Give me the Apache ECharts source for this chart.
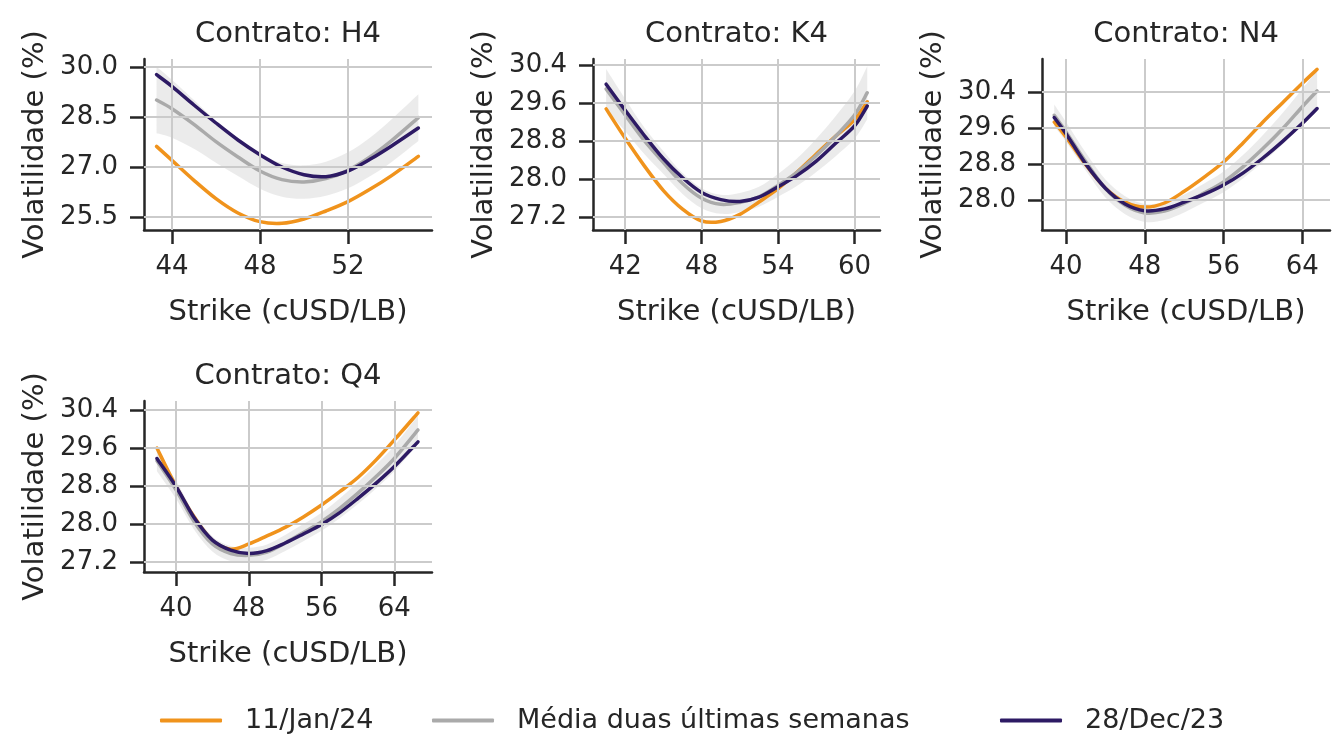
<!DOCTYPE html>
<html><head><meta charset="utf-8">
<script src="https://cdn.jsdelivr.net/npm/echarts@6/dist/echarts.min.js"></script>
<style>html,body{margin:0;padding:0;background:#fff}#c{width:1335px;height:742px}</style>
</head><body><div id="c"></div>
<script>
const seriesNames = ['11/Jan/24', 'Média duas últimas semanas', '28/Dec/23'];
const contractTitles = ['Contrato: H4', 'Contrato: K4', 'Contrato: N4', 'Contrato: Q4'];
const xName = 'Strike (cUSD/LB)';
const yName = 'Volatilidade (%)';

// H4
const h4Strike = [43.3, 44, 45, 46, 47, 48, 49, 50, 51, 52, 53, 54, 55.2];
const h4Jan11 = [27.62, 27.20, 26.60, 26.05, 25.62, 25.36, 25.31, 25.44, 25.68, 25.96, 26.33, 26.75, 27.32];
const h4Mean = [29.01, 28.75, 28.28, 27.76, 27.30, 26.88, 26.62, 26.55, 26.65, 26.90, 27.30, 27.80, 28.48];
const h4MeanLow = [28.01, 27.88, 27.55, 27.13, 26.73, 26.35, 26.11, 26.05, 26.14, 26.36, 26.72, 27.16, 27.78];
const h4MeanHigh = [30.01, 29.62, 29.01, 28.39, 27.87, 27.40, 27.12, 27.05, 27.16, 27.44, 27.88, 28.44, 29.18];
const h4Dec28 = [29.77, 29.42, 28.86, 28.32, 27.81, 27.37, 27.00, 26.77, 26.71, 26.88, 27.23, 27.64, 28.17];
const h4XTicks = [44, 48, 52];
const h4YTicks = [25.5, 27.0, 28.5, 30.0];

// K4
const k4Strike = [40.5, 42, 43.5, 45, 46.5, 48, 49.5, 51, 52.5, 54, 55.5, 57, 58.5, 60, 61];
const k4Jan11 = [29.48, 28.86, 28.28, 27.76, 27.37, 27.12, 27.11, 27.26, 27.52, 27.80, 28.15, 28.53, 28.90, 29.25, 29.63];
const k4Mean = [29.90, 29.35, 28.81, 28.35, 27.91, 27.60, 27.47, 27.51, 27.63, 27.87, 28.15, 28.50, 28.90, 29.35, 29.82];
const k4MeanLow = [29.48, 29.01, 28.53, 28.11, 27.69, 27.39, 27.27, 27.31, 27.42, 27.63, 27.86, 28.15, 28.48, 28.85, 29.26];
const k4MeanHigh = [30.32, 29.69, 29.09, 28.59, 28.13, 27.81, 27.67, 27.71, 27.84, 28.11, 28.44, 28.85, 29.32, 29.85, 30.38];
const k4Dec28 = [30.00, 29.45, 28.92, 28.43, 28.03, 27.72, 27.57, 27.53, 27.62, 27.84, 28.08, 28.38, 28.75, 29.12, 29.54];
const k4XTicks = [42, 48, 54, 60];
const k4YTicks = [27.2, 28.0, 28.8, 29.6, 30.4];

// N4
const n4Strike = [38.8, 40, 42, 44, 46, 48, 50, 52, 54, 56, 58, 60, 62, 64, 65.5];
const n4Jan11 = [29.73, 29.40, 28.78, 28.26, 27.95, 27.84, 27.93, 28.19, 28.50, 28.84, 29.27, 29.73, 30.16, 30.59, 30.90];
const n4Mean = [29.88, 29.51, 28.85, 28.25, 27.88, 27.71, 27.75, 27.92, 28.15, 28.40, 28.74, 29.14, 29.58, 30.07, 30.42];
const n4MeanLow = [29.64, 29.29, 28.65, 28.05, 27.68, 27.51, 27.55, 27.72, 27.94, 28.17, 28.48, 28.84, 29.23, 29.67, 29.97];
const n4MeanHigh = [30.12, 29.73, 29.05, 28.45, 28.08, 27.91, 27.95, 28.12, 28.36, 28.63, 29.00, 29.44, 29.93, 30.47, 30.87];
const n4Dec28 = [29.83, 29.47, 28.80, 28.26, 27.91, 27.76, 27.80, 27.95, 28.12, 28.33, 28.60, 28.93, 29.30, 29.70, 30.03];
const n4XTicks = [40, 48, 56, 64];
const n4YTicks = [28.0, 28.8, 29.6, 30.4];

// Q4
const q4Strike = [37.9, 40, 42, 44, 46, 48, 50, 52, 54, 56, 58, 60, 62, 64, 66.6];
const q4Jan11 = [29.60, 28.79, 28.15, 27.65, 27.47, 27.58, 27.75, 27.93, 28.15, 28.40, 28.68, 28.98, 29.35, 29.77, 30.34];
const q4Mean = [29.33, 28.72, 28.05, 27.58, 27.38, 27.34, 27.41, 27.60, 27.82, 28.05, 28.33, 28.65, 29.00, 29.38, 29.98];
const q4MeanLow = [29.11, 28.53, 27.88, 27.42, 27.22, 27.18, 27.25, 27.43, 27.64, 27.86, 28.12, 28.42, 28.75, 29.11, 29.68];
const q4MeanHigh = [29.55, 28.91, 28.22, 27.74, 27.54, 27.50, 27.57, 27.77, 28.00, 28.24, 28.54, 28.88, 29.25, 29.65, 30.28];
const q4Dec28 = [29.38, 28.79, 28.13, 27.66, 27.45, 27.38, 27.44, 27.60, 27.79, 27.99, 28.24, 28.54, 28.86, 29.21, 29.73];
const q4XTicks = [40, 48, 56, 64];
const q4YTicks = [27.2, 28.0, 28.8, 29.6, 30.4];

const FONT = '"DejaVu Sans", sans-serif';
const TXT = '#262626';
const COLORS = ['#f0931c', '#aaaaaa', '#2d1a64'];

const panels = [
  {strike: h4Strike, jan: h4Jan11, mean: h4Mean, lo: h4MeanLow, hi: h4MeanHigh, dec: h4Dec28, xt: h4XTicks, yt: h4YTicks,
   grid: {left: 144, top: 59, width: 288, height: 171}, xr: [42.73, 55.82], yr: [25.11, 30.24]},
  {strike: k4Strike, jan: k4Jan11, mean: k4Mean, lo: k4MeanLow, hi: k4MeanHigh, dec: k4Dec28, xt: k4XTicks, yt: k4YTicks,
   grid: {left: 593, top: 59, width: 287, height: 171}, xr: [39.47, 62.0], yr: [26.93, 30.53]},
  {strike: n4Strike, jan: n4Jan11, mean: n4Mean, lo: n4MeanLow, hi: n4MeanHigh, dec: n4Dec28, xt: n4XTicks, yt: n4YTicks,
   grid: {left: 1042, top: 59, width: 288, height: 171}, xr: [37.56, 66.81], yr: [27.33, 31.13]},
  {strike: q4Strike, jan: q4Jan11, mean: q4Mean, lo: q4MeanLow, hi: q4MeanHigh, dec: q4Dec28, xt: q4XTicks, yt: q4YTicks,
   grid: {left: 144, top: 401, width: 288, height: 171}, xr: [36.48, 68.14], yr: [26.99, 30.59]}
];

// Catmull-Rom spline through pixel points -> bezier path segments
function splineSegs(pts) {
  let d = '';
  for (let k = 0; k < pts.length - 1; k++) {
    const p0 = pts[k - 1] || pts[k], p1 = pts[k], p2 = pts[k + 1], p3 = pts[k + 2] || pts[k + 1];
    const c1x = p1[0] + (p2[0] - p0[0]) / 6, c1y = p1[1] + (p2[1] - p0[1]) / 6;
    const c2x = p2[0] - (p3[0] - p1[0]) / 6, c2y = p2[1] - (p3[1] - p1[1]) / 6;
    d += ' C' + c1x + ' ' + c1y + ' ' + c2x + ' ' + c2y + ' ' + p2[0] + ' ' + p2[1];
  }
  return d;
}

const grids = [], xAxes = [], yAxes = [], series = [], titles = [];
panels.forEach((p, i) => {
  grids.push(Object.assign({containLabel: false}, p.grid));
  titles.push({
    text: contractTitles[i], left: p.grid.left + p.grid.width / 2, top: p.grid.top - 39,
    textAlign: 'center', padding: 0,
    textStyle: {fontFamily: FONT, fontSize: 29, fontWeight: 'normal', color: TXT}
  });
  xAxes.push({
    gridIndex: i, type: 'value', min: p.xr[0], max: p.xr[1],
    axisLine: {show: true, onZero: false, lineStyle: {color: TXT, width: 2.5}},
    axisTick: {show: true, length: 14, customValues: p.xt, lineStyle: {color: TXT, width: 2.5}},
    axisLabel: {customValues: p.xt, margin: 24, fontFamily: FONT, fontSize: 26, color: TXT,
      formatter: v => String(Math.round(v))},
    splitLine: {show: false},
    name: xName, nameLocation: 'middle', nameGap: 68,
    nameTextStyle: {fontFamily: FONT, fontSize: 29, color: TXT}
  });
  yAxes.push({
    gridIndex: i, type: 'value', min: p.yr[0], max: p.yr[1],
    axisLine: {show: true, onZero: false, lineStyle: {color: TXT, width: 2.5}},
    axisTick: {show: true, length: 14, customValues: p.yt, lineStyle: {color: TXT, width: 2.5}},
    axisLabel: {customValues: p.yt, margin: 26, fontFamily: FONT, fontSize: 26, color: TXT,
      formatter: v => v.toFixed(1)},
    splitLine: {show: false},
    name: yName, nameLocation: 'middle', nameGap: 94,
    nameTextStyle: {fontFamily: FONT, fontSize: 29, color: TXT}
  });
  // gridlines carrier (invisible line) with markLine gridlines at tick values
  series.push({
    name: 'grid-' + i, type: 'line', xAxisIndex: i, yAxisIndex: i,
    data: p.strike.map((s, k) => [s, p.mean[k]]),
    symbol: 'none', lineStyle: {opacity: 0}, z: 1, silent: true,
    markLine: {
      silent: true, symbol: ['none', 'none'], label: {show: false}, animation: false,
      lineStyle: {color: '#cbcbcb', width: 2, type: 'solid'},
      emphasis: {disabled: true},
      data: [...p.xt.map(v => ({xAxis: v})), ...p.yt.map(v => ({yAxis: v}))]
    }
  });
  // confidence band as a smooth closed path through the axis scales
  series.push({
    name: 'band-' + i, type: 'custom', xAxisIndex: i, yAxisIndex: i, silent: true, z: 2,
    data: p.strike.map((s, k) => [s, p.lo[k], p.hi[k]]),
    encode: {x: 0, y: [1, 2]},
    renderItem: (params, api) => {
      if (params.dataIndexInside !== 0) return null;
      const n = params.dataInsideLength;
      const top = [], bot = [];
      for (let k = 0; k < n; k++) {
        top.push(api.coord([api.value(0, k), api.value(2, k)]));
        bot.push(api.coord([api.value(0, k), api.value(1, k)]));
      }
      bot.reverse();
      const d = 'M' + top[0][0] + ' ' + top[0][1] + splineSegs(top) +
        ' L' + bot[0][0] + ' ' + bot[0][1] + splineSegs(bot) + ' Z';
      return {type: 'path', shape: {pathData: d}, style: {fill: 'rgba(150,150,150,0.19)'}};
    }
  });
  // the three curves, smooth splines through the read points via the axis scales
  [[seriesNames[0], p.jan, COLORS[0]], [seriesNames[1], p.mean, COLORS[1]], [seriesNames[2], p.dec, COLORS[2]]]
    .forEach(([nm, arr, col]) => {
      series.push({
        name: nm, type: 'custom', xAxisIndex: i, yAxisIndex: i, z: 3, silent: true,
        itemStyle: {color: col},
        data: p.strike.map((s, k) => [s, arr[k]]),
        encode: {x: 0, y: 1},
        renderItem: (params, api) => {
          if (params.dataIndexInside !== 0) return null;
          const n = params.dataInsideLength;
          const pts = [];
          for (let k = 0; k < n; k++) pts.push(api.coord([api.value(0, k), api.value(1, k)]));
          const d = 'M' + pts[0][0] + ' ' + pts[0][1] + splineSegs(pts);
          return {type: 'path', shape: {pathData: d},
            style: {fill: 'none', stroke: col, lineWidth: 3.5, lineCap: 'round', lineJoin: 'round'}};
        }
      });
    });
});

const legendBase = {
  top: 707, padding: 0, itemWidth: 62, itemHeight: 4, icon: 'roundRect',
  textStyle: {fontFamily: FONT, fontSize: 27, color: TXT, padding: [0, 0, 0, 18]}
};
const legendLefts = [160, 432, 1000];
const legends = seriesNames.map((nm, k) => Object.assign({}, legendBase,
  {data: [{name: nm, itemStyle: {color: COLORS[k]}}], left: legendLefts[k]}));

const chart = echarts.init(document.getElementById('c'), null, {renderer: 'canvas'});
chart.setOption({
  backgroundColor: '#ffffff',
  animation: false,
  title: titles,
  grid: grids,
  xAxis: xAxes,
  yAxis: yAxes,
  legend: legends,
  series: series
});
</script></body></html>
